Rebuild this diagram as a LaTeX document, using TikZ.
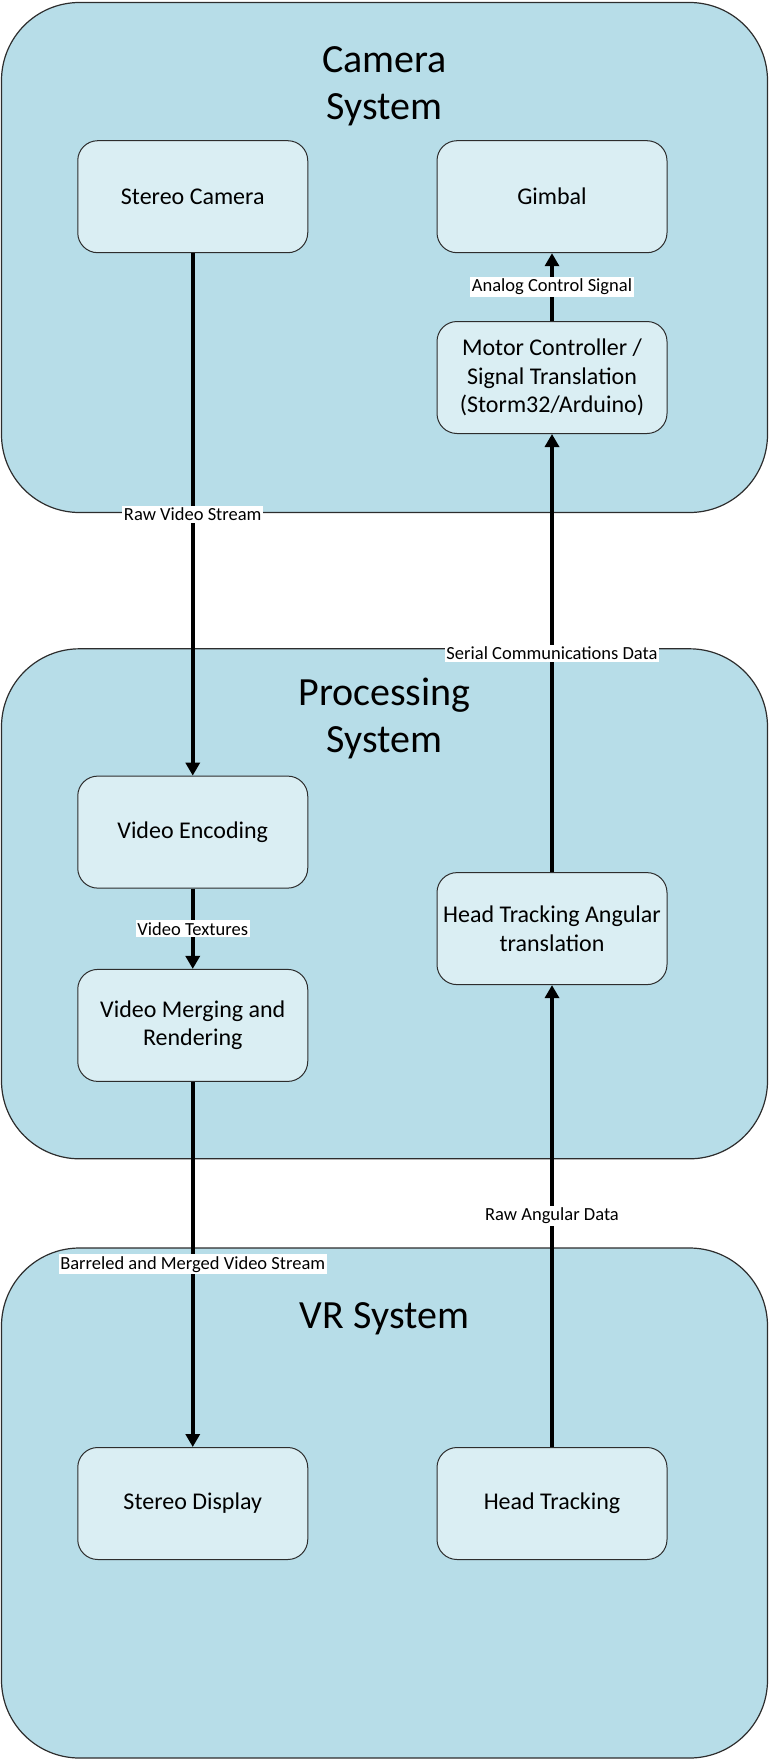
\documentclass[tikz,border=0pt]{standalone}
\usepackage{fontspec}
\setmainfont{Carlito}
\usetikzlibrary{arrows.meta}
\definecolor{contfill}{RGB}{183,221,232}
\definecolor{boxfill}{RGB}{218,238,243}
\definecolor{edgecol}{RGB}{45,45,45}
\begin{document}
\begin{tikzpicture}[x=1pt,y=-1pt,
  container/.style={draw=edgecol, line width=1.2pt, fill=contfill, rounded corners=78pt,
    minimum width=766pt, minimum height=510pt, inner sep=0pt},
  stepbox/.style={draw=edgecol, line width=1pt, fill=boxfill, rounded corners=20pt,
    minimum width=230pt, minimum height=112pt, align=center, inner sep=0pt,
    font=\fontsize{24}{28.5}\selectfont},
  systitle/.style={align=center, anchor=base, font=\fontsize{40}{46.5}\selectfont},
  flow/.style={line width=3.5pt, -{Triangle[width=14pt,length=13pt]}},
  lbl/.style={fill=white, font=\fontsize{18.5}{21}\selectfont, inner xsep=1.5pt, inner ysep=2pt}
]
\useasboundingbox (0,0) rectangle (769,1761);

% containers
\node[container] (camsys)  at (384.5,257.5) {};
\node[container] (procsys) at (384.5,903.8) {};
\node[container] (vrsys)   at (384.5,1503) {};

% titles
\node[systitle] (camtitle)  at (384.5,119.3) {Camera\\System};
\node[systitle] (proctitle) at (384.5,752) {Processing\\System};
\node[systitle] (vrtitle)   at (384.5,1328.6) {VR System};

% boxes
\node[stepbox] (cam)    at (192.75,196.7) {Stereo Camera};
\node[stepbox] (gimbal) at (552,196.7) {Gimbal};
\node[stepbox] (motor)  at (552,377.5) {Motor Controller /\\Signal Translation\\(Storm32/Arduino)};
\node[stepbox] (enc)    at (192.75,832.1) {Video Encoding};
\node[stepbox] (merge)  at (192.75,1025.4) {Video Merging and\\Rendering};
\node[stepbox] (hta)    at (552,928.6) {Head Tracking Angular\\translation};
\node[stepbox] (disp)   at (192.75,1503.5) {Stereo Display};
\node[stepbox] (head)   at (552,1503.5) {Head Tracking};

% connectors
\draw[flow] (cam) -- node[lbl] (l1) {Raw Video Stream} (enc);
\draw[flow] (enc) -- node[lbl] (l2) {Video Textures} (merge);
\draw[flow] (merge) -- node[lbl] (l3) {Barreled and Merged Video Stream} (disp);
\draw[flow] (head) -- node[lbl] (l4) {Raw Angular Data} (hta);
\draw[flow] (hta) -- node[lbl] (l5) {Serial Communications Data} (motor);
\draw[flow] (motor) -- node[lbl] (l6) {Analog Control Signal} (gimbal);
\end{tikzpicture}
\end{document}
